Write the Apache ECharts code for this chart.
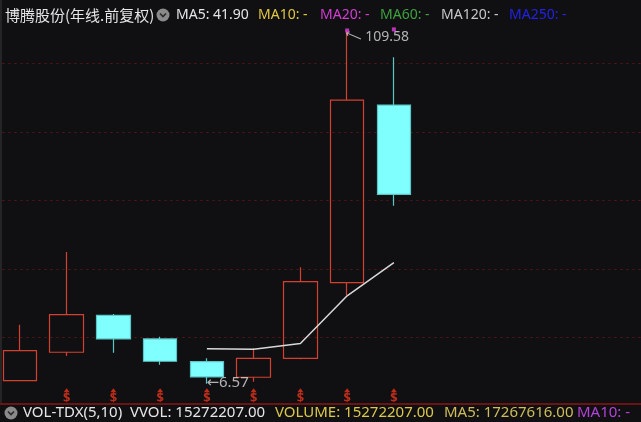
<!DOCTYPE html>
<html><head><meta charset="utf-8">
<script src="https://cdn.jsdelivr.net/npm/echarts@6/dist/echarts.min.js"></script>
<style>html,body{margin:0;padding:0;background:#101013;width:641px;height:422px;overflow:hidden;position:relative;}
#c{position:absolute;left:-10px;top:-10px;width:661px;height:442px;}</style>
</head><body><div id="c"></div>
<script>
// ---- data ----
const years = ['2014','2015','2016','2017','2018','2019','2020','2021','2022'];
const emptySlots = ['2023','2024','2025','2026','2027'];
const opens  = [7.46, 15.74, 26.53, 19.62, 13.00, 8.45, 13.99, 36.03, 87.84];
const closes = [16.21, 26.71, 19.62, 13.12, 8.54, 13.99, 36.33, 89.30, 61.81];
const lows   = [7.40, 14.66, 15.63, 12.13, 6.57, 7.17, 13.70, 32.45, 58.48];
const highs  = [23.79, 44.99, 26.91, 20.29, 13.99, 16.91, 40.52, 109.58, 101.75];
const ma5    = [null, null, null, null, 16.8, 16.6, 18.3, 32.2, 41.9];
const dividendFlags = [0, 1, 1, 1, 1, 1, 1, 1, 1];
const peakDots = [null, null, null, null, null, null, null, 109.58, 109.9];
const priceTicks = [0, 20, 40, 60, 80, 100, 120];

// ---- build ----
const O = 10; // container offset (chart div is shifted by -O,-O)
const categories = years.concat(emptySlots);
const kData = years.map((y, i) => [opens[i], closes[i], lows[i], highs[i]]);
const hiIdx = highs.indexOf(Math.max(...highs));
const loIdx = lows.indexOf(Math.min(...lows));
const divData = [];
dividendFlags.forEach((f, i) => { if (f) divData.push([i, priceTicks[0]]); });
const dotData = [];
peakDots.forEach((v, i) => { if (v != null) dotData.push([i, v]); });

const RED = '#d2402f', CYAN = '#80ffff', CYANB = '#5cc6c6';
const LAT = '"Noto Sans", "DejaVu Sans", sans-serif';
const CJK = '"Noto Sans CJK SC", sans-serif';
const ARW = '"DejaVu Sans", sans-serif';

function txt(x, y, text, fill, font) {
  return { type: 'text', x: x + O, y: y + O, silent: true, z: 100,
    style: { text: text, fill: fill, font: font || ('14px ' + LAT), verticalAlign: 'middle', align: 'left' } };
}
function chevronBtn(cx, cy) {
  return { type: 'group', x: cx + O, y: cy + O, z: 100, children: [
    { type: 'circle', shape: { cx: 0, cy: 0, r: 6.5 }, style: { fill: '#8a8a8a' } },
    { type: 'polyline', shape: { points: [[-3, -1.5], [0, 1.5], [3, -1.5]] }, style: { stroke: '#2a2a2a', lineWidth: 1.6, fill: null } }
  ]};
}

const chart = echarts.init(document.getElementById('c'), null, { renderer: 'canvas' });
chart.setOption({
  backgroundColor: '#101013',
  animation: false,
  grid: { left: -3.47 + O, width: 46.94 * categories.length, top: -5.25 + O, height: 411.5, containLabel: false },
  xAxis: { type: 'category', data: categories, boundaryGap: true,
    axisLine: { show: false }, axisTick: { show: false }, axisLabel: { show: false }, splitLine: { show: false } },
  yAxis: { type: 'value', min: priceTicks[0], max: priceTicks[priceTicks.length - 1], interval: 20,
    axisLine: { show: false }, axisTick: { show: false }, axisLabel: { show: false },
    splitLine: { show: true, showMinLine: false, showMaxLine: false,
      lineStyle: { color: '#5e1515', width: 1, type: [2, 4] } } },
  series: [
    { type: 'candlestick', data: kData, barWidth: 34,
      itemStyle: { color: 'transparent', color0: CYAN, borderColor: RED, borderColor0: CYANB, borderWidth: 1.2 } },
    { type: 'line', data: ma5, symbol: 'none', smooth: false,
      lineStyle: { color: '#d9d9d9', width: 1.5 } },
    { type: 'scatter', data: divData, symbol: 'triangle', symbolSize: [6, 4], symbolOffset: [0, -16],
      itemStyle: { color: '#e8341c' } },
    { type: 'scatter', data: divData, symbol: 'circle', symbolSize: 1, itemStyle: { color: 'transparent' },
      label: { show: true, position: 'inside', formatter: '$', offset: [0, -8],
        color: '#e8341c', fontSize: 13, fontWeight: 'bold', fontFamily: LAT } },
    { type: 'scatter', data: dotData, symbol: 'rect', symbolSize: 4, itemStyle: { color: '#e23ce2' }, z: 5 },
    { type: 'scatter', data: [[hiIdx, highs[hiIdx]]], symbol: 'circle', symbolSize: 1, itemStyle: { color: 'transparent' },
      label: { show: true, position: 'inside', formatter: '\u27F5', rotate: -23, offset: [8, 3],
        color: '#dcdcdc', fontSize: 12, fontFamily: ARW } },
    { type: 'scatter', data: [[hiIdx, highs[hiIdx]]], symbol: 'circle', symbolSize: 1, itemStyle: { color: 'transparent' },
      label: { show: true, position: 'inside', formatter: String(highs[hiIdx]), offset: [40, 7],
        color: '#dcdcdc', fontSize: 14, fontFamily: LAT } },
    { type: 'scatter', data: [[loIdx, lows[loIdx]]], symbol: 'circle', symbolSize: 1, itemStyle: { color: 'transparent' },
      label: { show: true, position: 'right', distance: 0, offset: [-1, -1],
        formatter: '{a|\u2190}{b|' + lows[loIdx].toFixed(2) + '}',
        rich: { a: { color: '#dcdcdc', fontSize: 15, fontFamily: ARW },
                b: { color: '#dcdcdc', fontSize: 15, fontFamily: LAT } } } }
  ],
  graphic: [
    { type: 'rect', shape: { x: O, y: O, width: 2, height: 404 }, style: { fill: '#252528' }, silent: true },
    { type: 'line', shape: { x1: O, y1: 404 + O, x2: 641 + O, y2: 404 + O }, style: { stroke: '#6a1414', lineWidth: 2 }, silent: true },
    txt(5, 15, '博腾股份(年线.前复权)', '#e6e6e6', '15px ' + CJK),
    chevronBtn(163, 15),
    txt(176, 15, 'MA5: 41.90', '#e6e6e6'),
    txt(258, 15, 'MA10: -', '#e2c640'),
    txt(320, 15, 'MA20: -', '#d23ed2'),
    txt(380, 15, 'MA60: -', '#3ea23e'),
    txt(441, 15, 'MA120: -', '#c8c8c8'),
    txt(509, 15, 'MA250: -', '#2222e6'),
    chevronBtn(11, 413),
    txt(23, 413, 'VOL-TDX(5,10)', '#e6e6e6', '15px ' + LAT),
    txt(130, 413, 'VVOL: 15272207.00', '#e6e6e6', '15px ' + LAT),
    txt(275, 413, 'VOLUME: 15272207.00', '#dcc848', '15px ' + LAT),
    txt(444, 413, 'MA5: 17267616.00', '#cfbd5a', '15px ' + LAT),
    txt(577, 413, 'MA10: -', '#b442d8', '15px ' + LAT)
  ]
});
</script></body></html>
